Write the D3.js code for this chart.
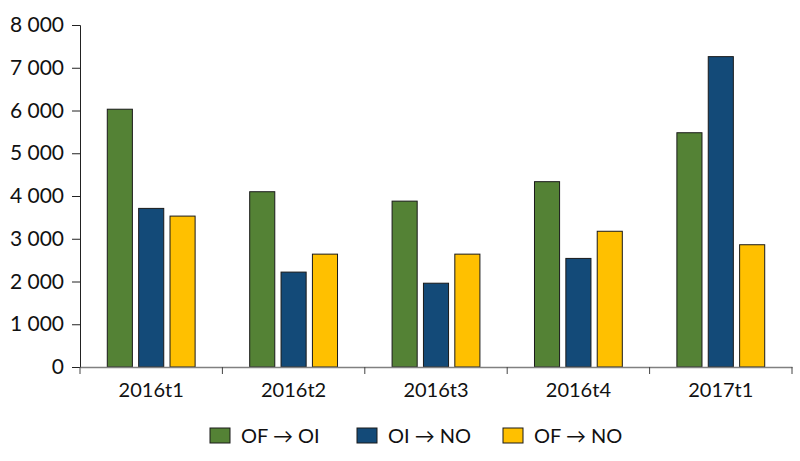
<!DOCTYPE html>
<html>
<head>
<meta charset="utf-8">
<script src="https://cdn.jsdelivr.net/npm/d3@7"></script>
<style>
	body { margin: 0; background: #fff; }
	svg text { font-family: Lato, "Open Sans", sans-serif; fill: #111; }
</style>
</head>
<body>
<div id="chart"></div>
<script>
// Chart data
const categories = ['2016t1', '2016t2', '2016t3', '2016t4', '2017t1'];
const seriesNames = ['OF \u2192 OI', 'OI \u2192 NO', 'OF \u2192 NO'];
const seriesColors = ['#548235', '#134a78', '#ffc000'];
const ofToOi = [6030, 4100, 3880, 4335, 5480];
const oiToNo = [3710, 2220, 1960, 2540, 7260];
const ofToNo = [3530, 2640, 2640, 3175, 2860];
const yTicks = [0, 1000, 2000, 3000, 4000, 5000, 6000, 7000, 8000];

(function() {
	'use strict';

	const width = 800;
	const height = 461;
	const margin = { top: 25, right: 8, bottom: 94, left: 80 };
	const values = [ofToOi, oiToNo, ofToNo];

	const svg = d3.select('#chart')
		.append('svg')
		.attr('width', width)
		.attr('height', height);

	const x = d3.scaleBand()
		.domain(categories)
		.range([margin.left, width - margin.right]);

	// Bars within a category: 25px wide, 6px apart
	const xInner = d3.scaleBand()
		.domain(d3.range(seriesNames.length))
		.range([0, x.bandwidth()])
		.paddingInner(0.2)
		.paddingOuter(0.87);

	const y = d3.scaleLinear()
		.domain([0, 8000])
		.range([height - margin.bottom, margin.top]);

	const fmt = function(d) { return d3.format(',')(d).replace(/,/g, ' '); };

	// Bars
	const groups = svg.append('g')
		.selectAll('g')
		.data(categories)
		.enter().append('g')
		.attr('transform', function(d) { return 'translate(' + x(d) + ',0)'; });

	groups.selectAll('rect')
		.data(function(d, i) {
			return values.map(function(s, j) { return { series: j, value: s[i] }; });
		})
		.enter().append('rect')
		.attr('x', function(d) { return xInner(d.series); })
		.attr('width', xInner.bandwidth())
		.attr('y', function(d) { return y(d.value); })
		.attr('height', function(d) { return y(0) - y(d.value); })
		.attr('fill', function(d) { return seriesColors[d.series]; })
		.attr('stroke', '#1a1a1a')
		.attr('stroke-width', 1);

	// Y axis
	const yAxis = svg.append('g')
		.attr('transform', 'translate(' + margin.left + ',0)')
		.call(d3.axisLeft(y).tickValues(yTicks).tickFormat(fmt).tickSize(8).tickPadding(8));
	yAxis.select('.domain').attr('stroke', '#222');
	yAxis.selectAll('.tick line').attr('stroke', '#222');
	yAxis.selectAll('text').style('font-size', '21px');

	// X axis
	const xAxis = svg.append('g')
		.attr('transform', 'translate(0,' + y(0) + ')')
		.call(d3.axisBottom(x).tickSize(0).tickPadding(16));
	xAxis.select('.domain').attr('stroke', '#808080').attr('stroke-width', 1.5);
	xAxis.selectAll('text').style('font-size', '20px');

	// Category separators
	const seps = categories.map(function(d) { return x(d); }).concat([x.range()[1]]);
	xAxis.selectAll('.sep')
		.data(seps)
		.enter().append('line')
		.attr('class', 'sep')
		.attr('x1', function(d) { return d; })
		.attr('x2', function(d) { return d; })
		.attr('y1', 0)
		.attr('y2', 7)
		.attr('stroke', '#444');

	// Legend
	const legendX = [210, 357, 503];
	const legend = svg.append('g')
		.selectAll('g')
		.data(seriesNames)
		.enter().append('g')
		.attr('transform', function(d, i) { return 'translate(' + legendX[i] + ',428)'; });

	legend.append('rect')
		.attr('width', 20)
		.attr('height', 15)
		.attr('fill', function(d, i) { return seriesColors[i]; })
		.attr('stroke', '#1a1a1a');

	legend.append('text')
		.attr('x', 31)
		.attr('y', 15)
		.style('font-size', '20px')
		.text(function(d) { return d; });
})();
</script>
</body>
</html>
